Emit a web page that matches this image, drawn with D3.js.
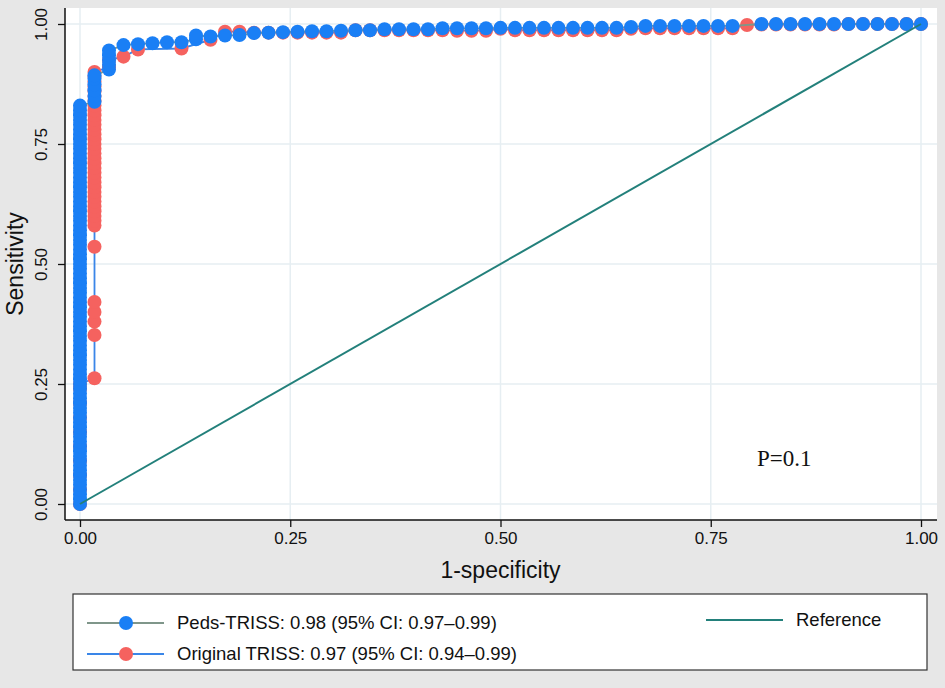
<!DOCTYPE html>
<html>
<head>
<meta charset="utf-8">
<script src="https://cdn.jsdelivr.net/npm/d3@7"></script>
<style>
  html, body { margin: 0; padding: 0; background: #e7e7e7; }
  svg { display: block; }
  text { font-family: "Liberation Sans", Arial, sans-serif; fill: #111; }
</style>
</head>
<body>
<div id="chart"></div>
<script>
// number of negatives: each step on the x axis is 1/58
var negatives = 58;

var xTicks = [0, 0.25, 0.5, 0.75, 1];
var yTicks = [0, 0.25, 0.5, 0.75, 1];

// Peds-TRISS: [false positive count, sensitivities at that count]
var pedsTriss = [
  [0, [0.00, 0.01, 0.02, 0.03, 0.04, 0.05, 0.06, 0.07, 0.08, 0.09, 0.10, 0.11, 0.12, 0.13, 0.14,
       0.15, 0.16, 0.17, 0.18, 0.19, 0.20, 0.21, 0.22, 0.23, 0.24, 0.25, 0.26, 0.27, 0.28, 0.29,
       0.30, 0.31, 0.32, 0.33, 0.34, 0.35, 0.36, 0.37, 0.38, 0.39, 0.40, 0.41, 0.42, 0.43, 0.44,
       0.45, 0.46, 0.47, 0.48, 0.49, 0.50, 0.51, 0.52, 0.53, 0.54, 0.55, 0.56, 0.57, 0.58, 0.59,
       0.60, 0.61, 0.62, 0.63, 0.64, 0.65, 0.66, 0.67, 0.68, 0.69, 0.70, 0.71, 0.72, 0.73, 0.74,
       0.75, 0.76, 0.77, 0.78, 0.79, 0.80, 0.81, 0.82, 0.83]],
  [1, [0.838, 0.85, 0.862, 0.874, 0.886, 0.893]],
  [2, [0.905, 0.915, 0.925, 0.935, 0.945]],
  [3, [0.956]], [4, [0.958]], [5, [0.960]], [6, [0.962]], [7, [0.962]],
  [8, [0.968, 0.976]], [9, [0.974]], [10, [0.976]], [11, [0.977]], [12, [0.981]],
  [13, [0.982]], [14, [0.983]], [15, [0.984]], [16, [0.985]], [17, [0.985]], [18, [0.986]],
  [19, [0.987]], [20, [0.987]], [21, [0.989]], [22, [0.989]], [23, [0.989]], [24, [0.989]],
  [25, [0.991]], [26, [0.991]], [27, [0.991]], [28, [0.991]], [29, [0.992]],
  [30, [0.992]], [31, [0.992]], [32, [0.992]], [33, [0.992]], [34, [0.992]], [35, [0.992]],
  [36, [0.992]], [37, [0.992]], [38, [0.994]],
  [39, [0.996]], [40, [0.996]], [41, [0.996]], [42, [0.996]], [43, [0.996]], [44, [0.996]],
  [45, [0.996]],
  [47, [1.0]], [48, [1.0]], [49, [1.0]], [50, [1.0]], [51, [1.0]], [52, [1.0]], [53, [1.0]],
  [54, [1.0]], [55, [1.0]], [56, [1.0]], [57, [1.0]], [58, [1.0]]
];

// Original TRISS
var originalTriss = [
  [0, [0.00, 0.03, 0.06, 0.09, 0.12, 0.15, 0.18, 0.21, 0.24, 0.25]],
  [1, [0.262, 0.352, 0.38, 0.40, 0.421, 0.536, 0.58, 0.59, 0.60, 0.61, 0.62, 0.63, 0.64,
       0.65, 0.66, 0.67, 0.68, 0.69, 0.70, 0.71, 0.72, 0.73, 0.74, 0.75, 0.76, 0.77, 0.78,
       0.79, 0.80, 0.81, 0.82, 0.83, 0.84, 0.85, 0.86, 0.87, 0.88, 0.89, 0.90]],
  [2, [0.91, 0.925]],
  [3, [0.932]], [4, [0.947]], [7, [0.949]], [9, [0.967]], [10, [0.984]], [11, [0.984]],
  [12, [0.982]], [13, [0.982]], [14, [0.982]], [15, [0.982]], [16, [0.982]], [17, [0.982]],
  [18, [0.982]], [19, [0.987]], [20, [0.987]], [21, [0.987]], [22, [0.987]], [23, [0.987]],
  [24, [0.987]], [25, [0.987]], [26, [0.986]], [27, [0.986]], [28, [0.986]], [29, [0.99]],
  [30, [0.987]], [31, [0.987]], [32, [0.987]], [33, [0.987]], [34, [0.987]], [35, [0.987]],
  [36, [0.987]], [37, [0.987]], [38, [0.99]],
  [39, [0.991]], [40, [0.991]], [41, [0.991]], [42, [0.991]], [43, [0.991]], [44, [0.991]],
  [45, [0.991]], [46, [0.998]],
  [47, [0.999]], [48, [0.999]], [49, [0.999]], [50, [0.999]], [51, [0.999]], [52, [0.999]],
  [53, [1.0]], [54, [1.0]], [55, [1.0]], [56, [1.0]], [57, [1.0]], [58, [1.0]]
];

var referenceLine = [[0, 0], [1, 1]];

var legendLabels = ["Peds-TRISS: 0.98 (95% CI: 0.97\u20130.99)",
                    "Original TRISS: 0.97 (95% CI: 0.94\u20130.99)",
                    "Reference"];

var width = 945, height = 688;
var region = {left: 65, right: 937, top: 8, bottom: 520};

var x = d3.scaleLinear().domain([0, 1]).range([80, 921]);
var y = d3.scaleLinear().domain([0, 1]).range([504, 24]);

function toPoints(cols) {
  var pts = [];
  cols.forEach(function (c) {
    c[1].forEach(function (s) { pts.push([c[0] / negatives, s]); });
  });
  return pts;
}

var pedsPts = toPoints(pedsTriss),
    origPts = toPoints(originalTriss);

var colors = {
  peds: "#1a7ff5", pedsLine: "#7f968a",
  orig: "#f5625f", origLine: "#3a86e8",
  ref: "#23807b", grid: "#e6eef2"
};

var svg = d3.select("#chart").append("svg")
  .attr("width", width).attr("height", height);

svg.append("rect").attr("width", width).attr("height", height).attr("fill", "#e7e7e7");

svg.append("rect")
  .attr("x", region.left).attr("y", region.top)
  .attr("width", region.right - region.left).attr("height", region.bottom - region.top)
  .attr("fill", "#fff");

// grid
var g = svg.append("g");
g.selectAll(".vgrid").data(xTicks).enter().append("line")
  .attr("x1", function (d) { return x(d); }).attr("x2", function (d) { return x(d); })
  .attr("y1", region.top).attr("y2", region.bottom)
  .attr("stroke", colors.grid).attr("stroke-width", 1.5);
g.selectAll(".hgrid").data(yTicks).enter().append("line")
  .attr("y1", function (d) { return y(d); }).attr("y2", function (d) { return y(d); })
  .attr("x1", region.left).attr("x2", region.right)
  .attr("stroke", colors.grid).attr("stroke-width", 1.5);

var line = d3.line().x(function (d) { return x(d[0]); }).y(function (d) { return y(d[1]); });
var r = 7;

// Original TRISS underneath
g.append("path").datum(origPts).attr("d", line)
  .attr("fill", "none").attr("stroke", colors.origLine).attr("stroke-width", 1.8);
g.selectAll(".orig").data(origPts).enter().append("circle")
  .attr("cx", function (d) { return x(d[0]); }).attr("cy", function (d) { return y(d[1]); })
  .attr("r", r).attr("fill", colors.orig);

// Peds-TRISS on top
g.append("path").datum(pedsPts).attr("d", line)
  .attr("fill", "none").attr("stroke", colors.pedsLine).attr("stroke-width", 1.8);
g.selectAll(".peds").data(pedsPts).enter().append("circle")
  .attr("cx", function (d) { return x(d[0]); }).attr("cy", function (d) { return y(d[1]); })
  .attr("r", r).attr("fill", colors.peds);

// reference diagonal
g.append("path").datum(referenceLine).attr("d", line)
  .attr("fill", "none").attr("stroke", colors.ref).attr("stroke-width", 2);

// axes
var xAxis = svg.append("g")
  .attr("transform", "translate(0," + region.bottom + ")")
  .call(d3.axisBottom(x).tickValues(xTicks).tickFormat(d3.format(".2f")).tickSize(7).tickPadding(5));
xAxis.select(".domain").remove();
xAxis.selectAll("line").attr("stroke", "#111").attr("stroke-width", 1.3);
xAxis.selectAll("text").attr("font-size", "17px").style("font-family", "Liberation Sans, Arial, sans-serif");

var yAxis = svg.append("g")
  .attr("transform", "translate(" + region.left + ",0)")
  .call(d3.axisLeft(y).tickValues(yTicks).tickFormat(d3.format(".2f")).tickSize(7));
yAxis.select(".domain").remove();
yAxis.selectAll("line").attr("stroke", "#111").attr("stroke-width", 1.3);
yAxis.selectAll("text")
  .attr("x", null).attr("dy", null)
  .attr("text-anchor", "middle")
  .attr("transform", "translate(-18,0) rotate(-90)")
  .attr("font-size", "17px").style("font-family", "Liberation Sans, Arial, sans-serif");

svg.append("line")
  .attr("x1", region.left).attr("x2", region.right)
  .attr("y1", region.bottom).attr("y2", region.bottom)
  .attr("stroke", "#111").attr("stroke-width", 1.5);
svg.append("line")
  .attr("x1", region.left).attr("x2", region.left)
  .attr("y1", region.top).attr("y2", region.bottom)
  .attr("stroke", "#111").attr("stroke-width", 1.5);

// axis titles
svg.append("text").attr("x", (x(0) + x(1)) / 2).attr("y", 578)
  .attr("text-anchor", "middle").attr("font-size", "23px").text("1-specificity");
svg.append("text")
  .attr("transform", "translate(23," + ((y(0) + y(1)) / 2) + ") rotate(-90)")
  .attr("text-anchor", "middle").attr("font-size", "23px").text("Sensitivity");

svg.append("text").attr("x", 757).attr("y", 466)
  .attr("font-size", "23px").style("font-family", "Liberation Serif, Times New Roman, serif")
  .text("P=0.1");

// legend
var lg = svg.append("g");
lg.append("rect").attr("x", 73).attr("y", 594).attr("width", 854).attr("height", 76)
  .attr("fill", "#fff").attr("stroke", "#333").attr("stroke-width", 1.2);

var items = [
  {label: legendLabels[0], line: colors.pedsLine, dot: colors.peds, lx: 87, ly: 623},
  {label: legendLabels[1], line: colors.origLine, dot: colors.orig, lx: 87, ly: 654},
  {label: legendLabels[2], line: colors.ref, dot: null, lx: 706, ly: 620}
];
items.forEach(function (it) {
  lg.append("line").attr("x1", it.lx).attr("x2", it.lx + 77)
    .attr("y1", it.ly).attr("y2", it.ly)
    .attr("stroke", it.line).attr("stroke-width", 2);
  if (it.dot) {
    lg.append("circle").attr("cx", it.lx + 39).attr("cy", it.ly).attr("r", r).attr("fill", it.dot);
  }
  lg.append("text").attr("x", it.lx + 90).attr("y", it.ly + 6)
    .attr("font-size", "18.5px").text(it.label);
});
</script>
</body>
</html>
